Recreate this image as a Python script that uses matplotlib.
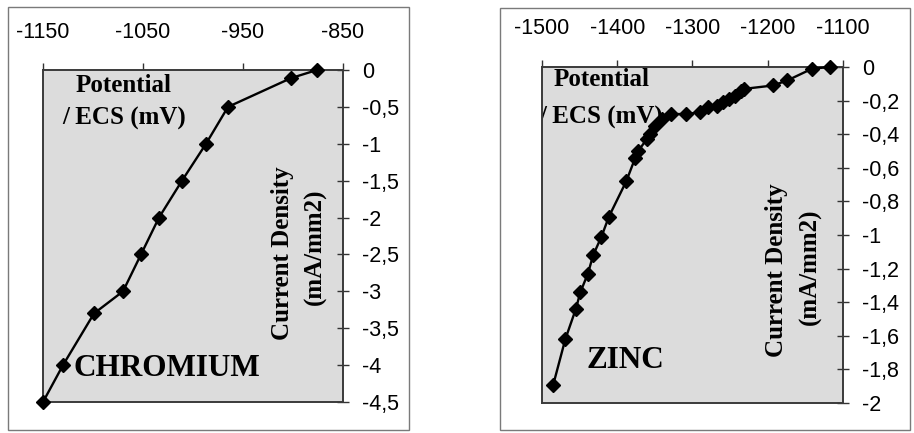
import matplotlib
matplotlib.use("Agg")
import matplotlib.pyplot as plt
from matplotlib.patches import Rectangle

# ---- data ----
cr_potential = [-876, -902, -965, -987, -1011, -1034, -1052, -1070, -1099, -1130, -1150]
cr_current = [0.0, -0.11, -0.5, -1.0, -1.5, -2.0, -2.5, -3.0, -3.3, -4.0, -4.5]

zn_potential = [-1117, -1141, -1174, -1193, -1231, -1235, -1243, -1252, -1260, -1268,
                -1279, -1290, -1309, -1329, -1341, -1350, -1356, -1361, -1372, -1376,
                -1388, -1411, -1421, -1432, -1439, -1449, -1455, -1469, -1485]
zn_current = [0.0, -0.01, -0.08, -0.11, -0.13, -0.14, -0.17, -0.19, -0.21, -0.23,
              -0.24, -0.27, -0.28, -0.28, -0.31, -0.35, -0.40, -0.43, -0.50, -0.54,
              -0.68, -0.89, -1.01, -1.12, -1.23, -1.34, -1.44, -1.62, -1.89]

cr_xticks = [-1150, -1050, -950, -850]
cr_yticks = [0, -0.5, -1, -1.5, -2, -2.5, -3, -3.5, -4, -4.5]
cr_ylabels = ["0", "-0,5", "-1", "-1,5", "-2", "-2,5", "-3", "-3,5", "-4", "-4,5"]

zn_xticks = [-1500, -1400, -1300, -1200, -1100]
zn_yticks = [0, -0.2, -0.4, -0.6, -0.8, -1, -1.2, -1.4, -1.6, -1.8, -2]
zn_ylabels = ["0", "-0,2", "-0,4", "-0,6", "-0,8", "-1", "-1,2", "-1,4", "-1,6", "-1,8", "-2"]

W, H = 914, 433
fig = plt.figure(figsize=(W / 100, H / 100), dpi=100)
fig.patch.set_facecolor("white")

sans = "Liberation Sans"
serif = "Liberation Serif"


def fx(px):
    return px / W


def fy(py):
    return 1 - py / H


# outer frames
for (x0, y0, x1, y1) in [(8, 7, 409, 430), (500, 8, 910, 430)]:
    fig.patches.append(Rectangle((fx(x0), fy(y1)), fx(x1) - fx(x0), fy(y0) - fy(y1),
                                 transform=fig.transFigure, fill=False,
                                 edgecolor="#7a7a7a", linewidth=1.0))


def make_panel(rect_px, x, y, xlim, ylim, xticks, yticks, ylabels, name, name_xy,
               pot1_xy, pot2_xy, cd1_xy, cd2_xy, xpad, ypad):
    x0, y0, x1, y1 = rect_px
    ax = fig.add_axes([fx(x0), fy(y1), fx(x1) - fx(x0), fy(y0) - fy(y1)])
    ax.set_facecolor("#dcdcdc")
    ax.plot(x, y, color="black", linewidth=1.7, marker="D", markersize=7,
            markerfacecolor="black", markeredgecolor="black", zorder=3, clip_on=False)
    ax.set_xlim(*xlim)
    ax.set_ylim(*ylim)
    ax.xaxis.tick_top()
    ax.yaxis.tick_right()
    ax.set_xticks(xticks)
    ax.set_xticklabels([str(v) for v in xticks], fontfamily=sans, fontsize=15.5)
    ax.set_yticks(yticks)
    ax.set_yticklabels(ylabels, fontfamily=sans, fontsize=15.5, ha="left")
    ax.tick_params(axis="x", direction="out", length=5, width=1, pad=xpad, colors="#333333",
                   labelcolor="black")
    ax.tick_params(axis="y", direction="inout", length=9, width=1, pad=ypad, colors="#333333",
                   labelcolor="black")
    for s in ax.spines.values():
        s.set_color("#3a3a3a")
        s.set_linewidth(1.4)

    def ax_xy(px, py):
        return ((px - x0) / (x1 - x0), (y1 - py) / (y1 - y0))

    for txt, xy in [("Potential", pot1_xy), ("/ ECS (mV)", pot2_xy)]:
        tx, ty = ax_xy(*xy)
        ax.text(tx, ty, txt, transform=ax.transAxes, ha="center", va="center",
                fontfamily=serif, fontweight="bold", fontsize=18, clip_on=True, zorder=2)
    tx, ty = ax_xy(*name_xy)
    ax.text(tx, ty, name, transform=ax.transAxes, ha="center", va="center",
            fontfamily=serif, fontweight="bold", fontsize=22.5, zorder=2)
    for txt, xy in [("Current Density", cd1_xy), ("(mA/mm2)", cd2_xy)]:
        tx, ty = ax_xy(*xy)
        ax.text(tx, ty, txt, transform=ax.transAxes, ha="center", va="center",
                rotation=90, fontfamily=serif, fontweight="bold", fontsize=18, zorder=2)
    return ax


make_panel((43, 70, 343, 402), cr_potential, cr_current, (-1150, -850), (-4.5, 0),
           cr_xticks, cr_yticks, cr_ylabels, "CHROMIUM", (167, 369),
           (124, 85), (124, 118), (282, 253), (315, 247), 14.5, 9)

make_panel((542, 67, 843, 403), zn_potential, zn_current, (-1500, -1100), (-2, 0),
           zn_xticks, zn_yticks, zn_ylabels, "ZINC", (625, 360),
           (602, 80), (601, 117), (777, 270), (810, 267), 15, 9)

fig.savefig("out.png", dpi=100, facecolor="white")
